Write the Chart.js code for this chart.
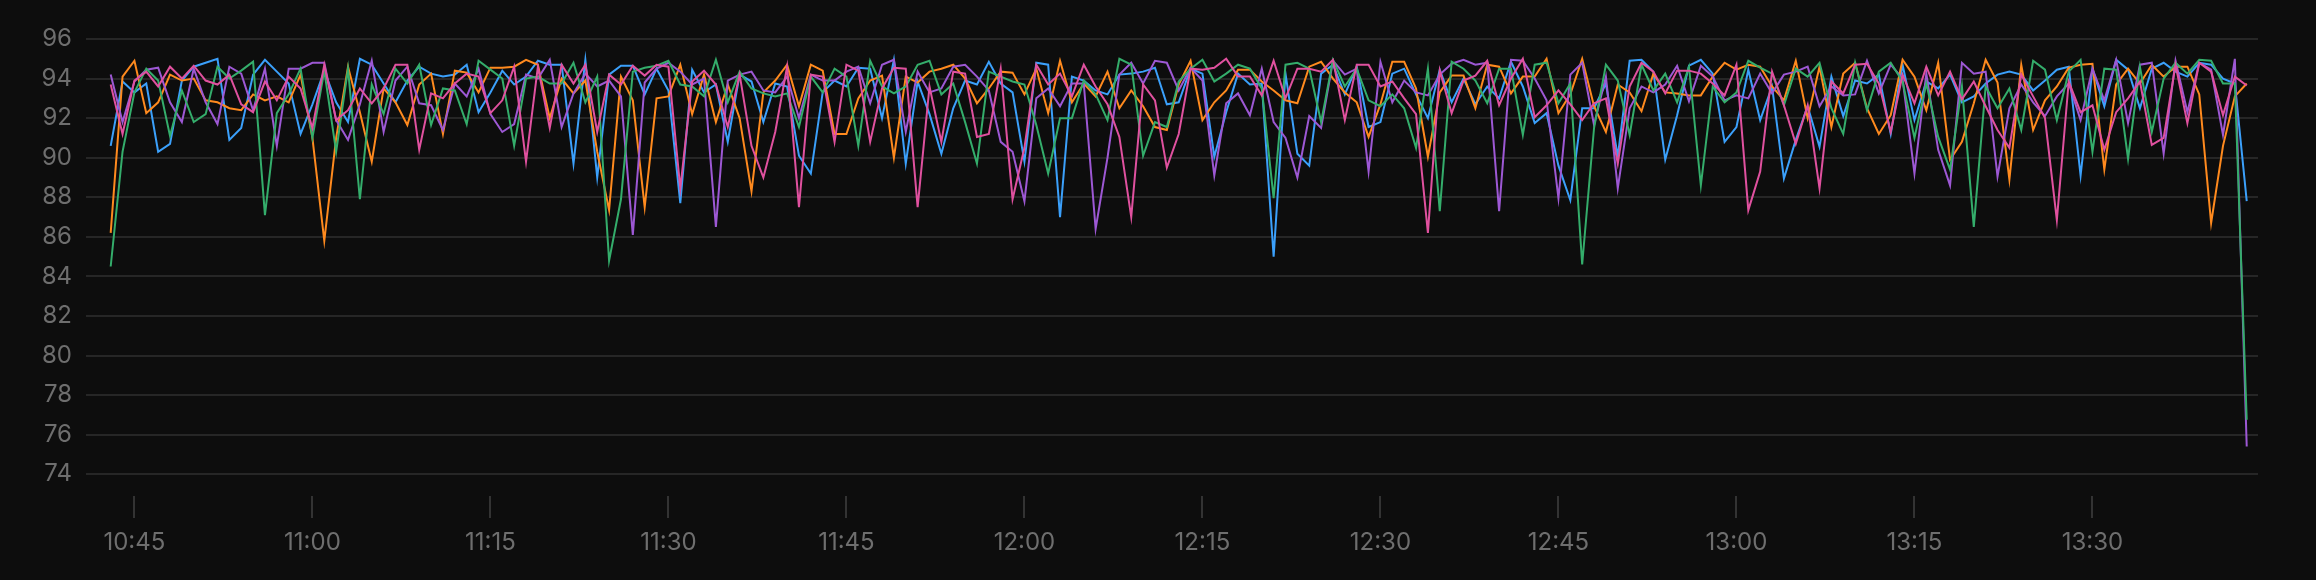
<!DOCTYPE html>
<html>
<head>
<meta charset="utf-8">
<script src="https://cdn.jsdelivr.net/npm/chart.js@4.4.1/dist/chart.umd.min.js"></script>
<style>
  html, body { margin: 0; padding: 0; background: #0d0d0d; }
  #wrap { width: 2316px; height: 580px; }
</style>
</head>
<body>
<div id="wrap"><canvas id="myChart" width="2316" height="580"></canvas></div>
<script>
// one reading per minute, starting here
var startTime = "10:43";

var tickLabels = ["10:45", "11:00", "11:15", "11:30", "11:45", "12:00", "12:15", "12:30", "12:45", "13:00", "13:15", "13:30"];
var yTicks = [74, 76, 78, 80, 82, 84, 86, 88, 90, 92, 94, 96];

var blue = [90.6, 93.85, 93.3, 93.75, 90.3, 90.7, 93.9, 94.6, 94.8, 95.0, 90.9, 91.5, 94.2, 94.95, 94.35, 93.75, 91.2, 92.7, 94.4, 92.8,
  91.8, 95.0, 94.7, 93.75, 92.8, 93.9, 94.6, 94.25, 94.1, 94.2, 94.7, 92.3, 93.3, 94.4, 93.7, 94.1, 94.9, 94.7, 94.7, 89.7,
  94.95, 89.0, 94.2, 94.65, 94.65, 93.2, 94.5, 93.4, 87.7, 94.45, 93.3, 93.7, 90.8, 94.2, 93.85, 91.8, 93.75, 93.6, 90.1, 89.2,
  93.3, 93.9, 93.6, 94.55, 94.5, 92.0, 94.95, 89.7, 93.85, 92.2, 90.2, 92.5, 93.9, 93.7, 94.85, 93.75, 93.3, 89.8, 94.8, 94.7,
  87.0, 94.1, 93.9, 93.4, 93.2, 94.2, 94.25, 94.35, 94.55, 92.7, 92.8, 94.5, 94.25, 90.05, 92.3, 94.25, 93.7, 93.75, 85.0, 94.25,
  90.2, 89.6, 94.25, 94.7, 93.2, 94.6, 91.55, 91.8, 94.25, 94.5, 93.2, 92.0, 94.45, 92.8, 94.0, 92.7, 93.6, 93.0, 94.85, 93.6,
  91.75, 92.25, 89.6, 87.85, 92.5, 92.5, 93.75, 90.05, 94.9, 94.95, 94.35, 89.9, 92.15, 94.65, 94.95, 94.25, 90.8, 91.55, 94.45, 91.9,
  93.6, 88.95, 90.9, 92.6, 90.55, 94.1, 92.1, 93.9, 93.75, 94.2, 91.2, 94.7, 91.9, 93.85, 93.5, 94.2, 92.8, 93.1, 93.75, 94.2,
  94.35, 94.2, 93.4, 93.9, 94.45, 94.6, 89.1, 94.5, 92.6, 94.95, 94.45, 92.5, 94.5, 94.8, 94.35, 94.1, 94.8, 94.7, 94.0, 93.75,
  87.8];

var orange = [86.2, 94.1, 94.9, 92.25, 92.8, 94.2, 93.9, 94.0, 92.9, 92.8, 92.5, 92.4, 93.2, 92.9, 93.1, 92.8, 94.2, 91.0, 85.8, 91.0,
  94.6, 92.3, 89.8, 93.5, 92.8, 91.65, 93.7, 94.25, 91.2, 94.4, 94.3, 93.3, 94.55, 94.55, 94.6, 94.95, 94.7, 92.0, 94.0, 93.25,
  93.9, 90.3, 87.35, 94.1, 92.9, 87.5, 93.0, 93.1, 94.7, 92.2, 94.2, 91.8, 93.7, 92.0, 88.3, 93.3, 93.9, 94.7, 92.6, 94.7,
  94.4, 91.2, 91.2, 93.0, 93.9, 94.15, 90.0, 94.1, 93.8, 94.35, 94.5, 94.7, 94.0, 92.75, 93.5, 94.35, 94.3, 93.2, 94.5, 92.25,
  94.9, 92.8, 93.75, 93.1, 94.35, 92.5, 93.4, 92.6, 91.55, 91.4, 93.7, 94.9, 91.9, 92.8, 93.4, 94.45, 94.45, 93.85, 93.4, 92.9,
  92.75, 94.6, 94.85, 94.0, 93.3, 92.8, 91.05, 92.7, 94.85, 94.85, 93.5, 90.05, 93.3, 94.15, 94.15, 92.5, 94.7, 94.6, 93.25, 94.1,
  94.1, 95.0, 92.25, 93.2, 95.0, 92.6, 91.3, 93.7, 93.3, 92.35, 94.25, 93.3, 93.25, 93.15, 93.15, 94.1, 94.8, 94.45, 94.7, 94.6,
  93.6, 92.9, 94.9, 92.0, 94.6, 91.55, 94.25, 94.8, 92.5, 91.2, 92.15, 94.95, 94.1, 92.4, 94.8, 89.9, 90.8, 92.75, 94.95, 93.8,
  88.9, 94.7, 91.4, 92.9, 93.6, 94.55, 94.7, 94.75, 89.4, 93.7, 94.5, 93.75, 94.7, 94.1, 94.6, 94.6, 93.2, 86.7, 90.6, 93.1,
  93.75];

var green = [84.5, 90.3, 93.3, 94.5, 93.9, 91.1, 93.4, 91.8, 92.2, 94.6, 94.0, 94.4, 94.85, 87.1, 92.25, 93.2, 94.5, 91.0, 94.4, 90.3,
  94.5, 87.9, 93.7, 92.2, 94.5, 93.75, 94.7, 91.65, 93.5, 93.4, 91.7, 94.9, 94.45, 94.0, 90.6, 94.0, 94.1, 93.75, 93.75, 94.8,
  92.8, 94.1, 84.8, 87.9, 94.35, 94.55, 94.65, 94.9, 93.7, 93.6, 93.1, 94.95, 92.8, 94.35, 93.5, 93.25, 93.1, 93.25, 91.55, 94.1,
  93.3, 94.5, 94.1, 90.6, 94.9, 93.6, 93.25, 93.6, 94.7, 94.9, 93.2, 93.75, 91.8, 89.7, 94.35, 94.1, 93.85, 93.7, 91.65, 89.2,
  92.0, 92.0, 93.9, 93.2, 91.9, 95.0, 94.7, 90.1, 91.8, 91.55, 93.85, 94.5, 94.95, 93.85, 94.25, 94.7, 94.5, 93.5, 87.95, 94.7,
  94.8, 94.5, 91.8, 94.95, 93.6, 94.5, 92.9, 92.6, 93.2, 92.5, 90.5, 94.5, 87.3, 94.85, 94.5, 93.9, 92.75, 94.5, 94.5, 91.15,
  94.7, 94.8, 92.75, 93.75, 84.6, 91.5, 94.7, 93.9, 91.15, 94.7, 93.4, 94.25, 92.8, 94.6, 88.6, 93.6, 92.8, 93.3, 94.9, 94.55,
  94.25, 92.65, 94.5, 94.1, 94.8, 92.5, 91.2, 94.8, 92.4, 94.35, 94.8, 93.85, 91.0, 93.75, 91.05, 89.4, 93.6, 86.5, 93.6, 92.5,
  93.5, 91.4, 94.9, 94.45, 91.9, 94.35, 94.95, 90.3, 94.5, 94.45, 89.95, 94.6, 91.3, 94.0, 94.8, 94.25, 94.95, 94.9, 93.75, 93.75,
  76.75];

var purple = [94.2, 91.8, 93.85, 94.45, 94.55, 92.8, 91.8, 94.5, 92.8, 91.7, 94.6, 94.25, 92.4, 94.5, 90.6, 94.5, 94.5, 94.8, 94.8, 91.9,
  90.9, 92.7, 94.9, 91.3, 93.9, 94.6, 92.75, 92.65, 91.4, 93.75, 93.1, 94.5, 92.2, 91.3, 91.7, 94.2, 94.0, 94.95, 91.55, 93.25,
  94.25, 93.6, 93.9, 93.1, 86.1, 93.8, 94.5, 94.8, 94.35, 93.7, 94.0, 86.5, 93.9, 94.2, 94.35, 93.4, 93.3, 94.1, 92.0, 94.2,
  93.9, 93.9, 94.35, 94.6, 92.75, 94.7, 94.95, 91.3, 94.35, 93.3, 93.5, 94.6, 94.7, 94.1, 93.4, 90.8, 90.3, 87.8, 93.0, 93.5,
  92.6, 93.75, 93.75, 86.4, 90.0, 94.2, 94.8, 93.75, 94.9, 94.8, 93.4, 94.55, 93.9, 89.1, 92.75, 93.25, 92.15, 94.5, 91.8, 91.0,
  89.0, 92.1, 91.5, 94.9, 94.2, 94.5, 89.3, 94.85, 92.8, 93.9, 93.3, 93.15, 94.2, 94.75, 94.95, 94.7, 94.8, 87.3, 94.95, 94.9,
  94.0, 92.9, 87.95, 94.2, 94.8, 91.65, 94.1, 88.45, 92.5, 93.6, 93.3, 93.7, 94.65, 92.85, 94.65, 94.1, 92.9, 93.15, 93.0, 94.25,
  93.25, 94.2, 94.35, 94.6, 92.6, 93.6, 93.15, 93.2, 94.9, 93.25, 94.7, 94.0, 89.2, 94.25, 90.4, 88.6, 94.8, 94.25, 94.35, 89.05,
  92.5, 93.7, 92.8, 92.1, 93.1, 93.75, 91.9, 94.5, 92.9, 94.95, 91.75, 94.7, 94.8, 90.2, 94.9, 92.3, 94.8, 94.45, 91.15, 95.0,
  75.4];

var pink = [93.7, 91.2, 93.9, 94.35, 93.6, 94.6, 94.0, 94.65, 93.9, 93.7, 94.2, 92.7, 92.3, 93.85, 92.9, 94.1, 93.5, 91.5, 94.7, 91.9,
  92.4, 93.5, 92.75, 93.5, 94.7, 94.7, 90.4, 93.25, 93.0, 93.75, 94.25, 94.1, 92.25, 92.9, 94.6, 89.8, 94.6, 91.5, 94.7, 93.75,
  94.7, 91.3, 94.2, 93.7, 94.65, 94.15, 94.7, 94.6, 88.45, 93.85, 94.4, 93.7, 91.55, 94.2, 90.6, 89.0, 91.3, 94.6, 87.5, 94.2,
  94.1, 90.8, 94.7, 94.4, 90.8, 93.5, 94.55, 94.5, 87.5, 93.6, 90.8, 94.35, 94.25, 91.05, 91.2, 94.5, 87.9, 90.5, 94.7, 93.7,
  94.25, 93.1, 94.7, 93.6, 92.7, 91.05, 87.0, 93.7, 92.9, 89.5, 91.2, 94.5, 94.45, 94.55, 95.0, 94.1, 94.1, 93.15, 94.9, 93.0,
  94.5, 94.5, 94.35, 94.95, 91.9, 94.7, 94.7, 93.6, 93.85, 93.0, 92.2, 86.2, 94.4, 92.25, 93.9, 94.15, 94.9, 92.65, 94.0, 95.0,
  92.05, 92.65, 93.4, 92.7, 91.9, 92.75, 93.0, 89.7, 93.6, 94.8, 94.35, 93.25, 94.4, 94.4, 94.25, 93.75, 93.15, 94.7, 87.35, 89.3,
  94.35, 92.65, 90.7, 92.65, 88.45, 93.85, 93.25, 94.7, 94.75, 93.75, 91.3, 94.2, 92.75, 94.6, 93.15, 94.35, 92.95, 93.85, 92.6, 91.4,
  90.5, 94.2, 93.1, 92.0, 86.85, 93.85, 92.3, 92.65, 90.4, 92.3, 93.0, 93.85, 90.65, 91.0, 94.7, 91.75, 94.8, 94.35, 92.15, 94.1,
  93.65];

function toMinutes(t) {
  var p = t.split(":");
  return Number(p[0]) * 60 + Number(p[1]);
}

function toLabel(m) {
  var h = Math.floor(m / 60);
  var mm = Math.round(m % 60);
  return h + ":" + (mm < 10 ? "0" + mm : mm);
}

var start = toMinutes(startTime);

function points(arr) {
  return arr.map((v, i) => ({ x: start + i, y: v }));
}

var tickValues = tickLabels.map(toMinutes);

// first one ends up on top
var series = [
  { name: "pink", data: pink, color: "#e0519f" },
  { name: "green", data: green, color: "#34ad6b" },
  { name: "purple", data: purple, color: "#9d58d4" },
  { name: "orange", data: orange, color: "#ff8a1e" },
  { name: "blue", data: blue, color: "#3ba0fb" },
];

var ctx = document.getElementById("myChart");

new Chart(ctx, {
  type: "line",
  data: {
    datasets: series.map((s) => ({
      label: s.name,
      data: points(s.data),
      borderColor: s.color,
      backgroundColor: s.color,
      borderWidth: 2,
      pointRadius: 0,
      tension: 0,
    })),
  },
  options: {
    responsive: false,
    animation: false,
    devicePixelRatio: 1,
    layout: { padding: { left: 0, right: 58, top: 39, bottom: 0 } },
    plugins: {
      legend: { display: false },
      tooltip: { enabled: false },
    },
    scales: {
      x: {
        type: "linear",
        min: 640.92,
        max: 823.95,
        afterBuildTicks: (axis) => {
          axis.ticks = tickValues.map((v) => ({ value: v }));
        },
        afterFit: (axis) => {
          axis.height = 84;
        },
        border: { display: false },
        grid: {
          drawOnChartArea: false,
          drawTicks: true,
          tickLength: 22,
          tickColor: "#333333",
          lineWidth: 2,
        },
        ticks: {
          color: "#6e6e6e",
          font: { family: "Inter", size: 24 },
          padding: 10,
          maxRotation: 0,
          autoSkip: false,
          callback: (v) => toLabel(v),
        },
      },
      y: {
        min: 72.9,
        max: 96,
        afterBuildTicks: (axis) => {
          axis.ticks = yTicks.map((v) => ({ value: v }));
        },
        afterFit: (axis) => {
          axis.width = 86;
        },
        border: { display: false },
        grid: {
          color: "#262626",
          lineWidth: 2,
          drawTicks: false,
        },
        ticks: {
          color: "#6e6e6e",
          font: { family: "Inter", size: 24 },
          padding: 14,
        },
      },
    },
  },
});
</script>
</body>
</html>
